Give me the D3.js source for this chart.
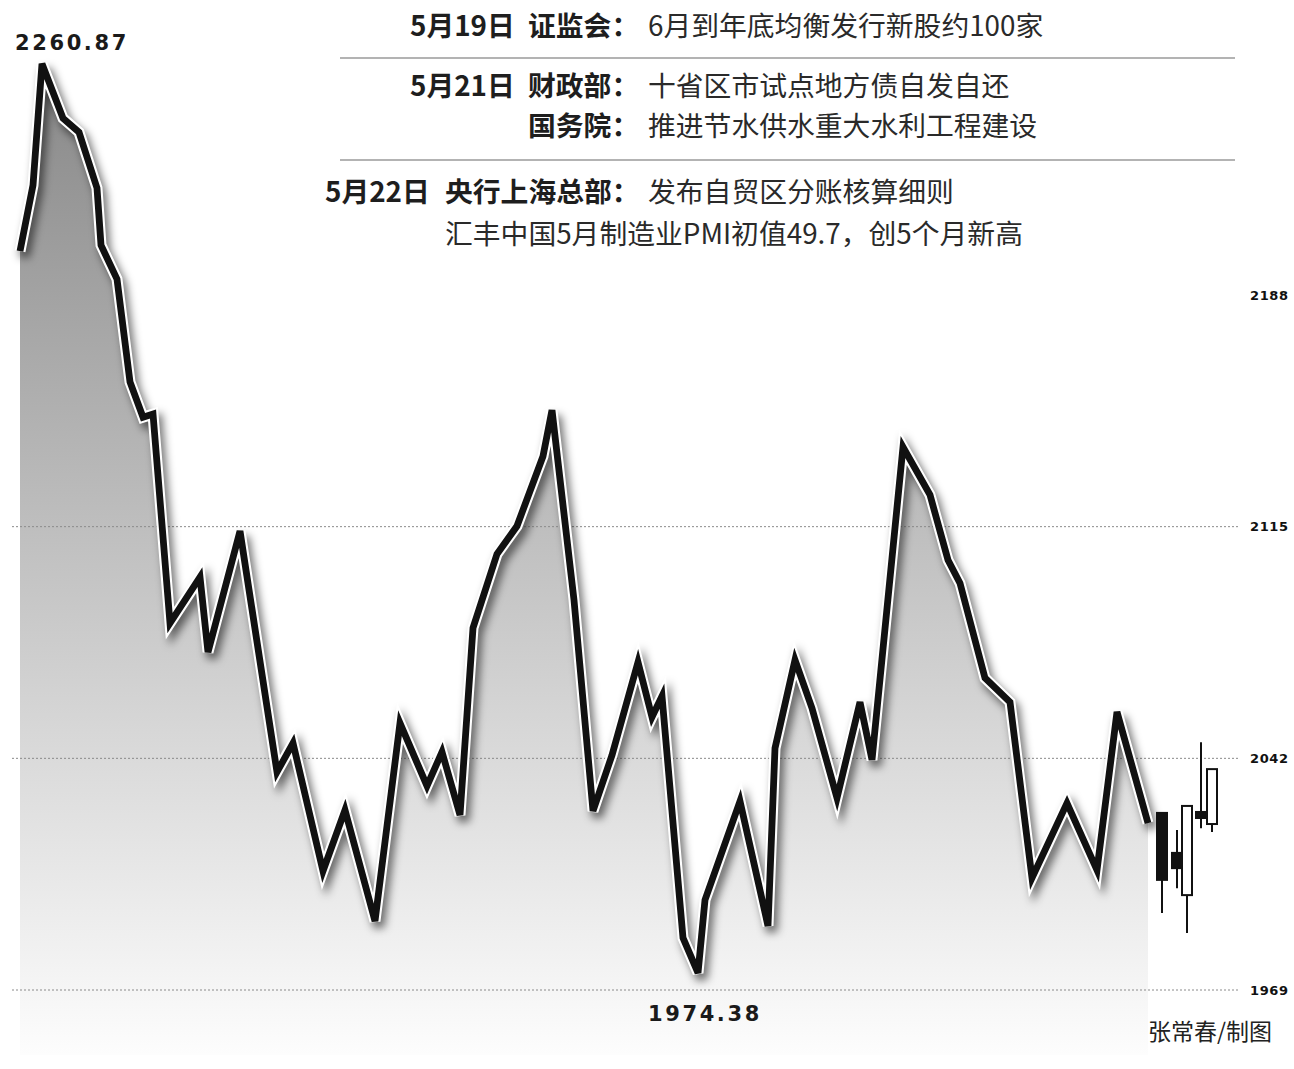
<!DOCTYPE html>
<html>
<head>
<meta charset="utf-8">
<script src="https://cdn.jsdelivr.net/npm/d3@7"></script>
<style>
html,body{margin:0;padding:0;background:#fff;overflow:hidden;}
svg{display:block;}
</style>
</head>
<body>
<script>
// ---- data ----
const xPos = [20,33,42,63,79,97,101,117,130,143,153,170,200,208,240,277,293,323,345,375,400,427,442,460,473,497,517,543,552,574,593,612,638,652,662,683,698,705,740,768,775,795,812,837,860,872,903,930,948,960,985,1010,1032,1067,1097,1117,1148];
const indexVals = [2201.8,2222.6,2260.87,2243.7,2239.3,2221.7,2203.7,2193.0,2160.6,2149.5,2150.5,2084.6,2099.1,2075.5,2113.6,2037.7,2046.8,2006.5,2025.7,1990.7,2053.1,2033.3,2044.0,2024.1,2083.1,2106.4,2115.2,2137.2,2151.7,2091.9,2025.4,2043.0,2072.3,2055.0,2061.6,1985.4,1974.38,1997.4,2028.5,1989.2,2045.2,2073.0,2057.8,2029.5,2059.7,2041.5,2140.1,2125.0,2104.5,2097.2,2067.3,2059.7,2004.3,2027.9,2006.8,2056.6,2021.6];

const candleX = [1162,1177,1187,1201,1212];
const candleOpen = [2024.8,2012.2,1998.9,2025.1,2021.3];
const candleClose = [2003.7,2007.4,2027.0,2023.2,2038.6];
const candleHigh = [2024.8,2019.4,2027.0,2047.1,2038.6];
const candleLow = [1993.3,2001.1,1987.0,2020.0,2018.8];

const tickVals = [1969,2042,2115,2188];
const gridVals = [1969,2042,2115];
const maxLabel = "2260.87";
const minLabel = "1974.38";

const newsDates = ["5月19日","5月21日","5月22日"];
const newsOrgs = ["证监会：","财政部：","国务院：","央行上海总部："];
const newsTexts = ["6月到年底均衡发行新股约100家","十省区市试点地方债自发自还","推进节水供水重大水利工程建设","发布自贸区分账核算细则","汇丰中国5月制造业PMI初值49.7，创5个月新高"];
const credit = "张常春/制图";

// ---- chart ----
const W = 1294, H = 1069;
const svg = d3.select("body").append("svg").attr("width", W).attr("height", H);

const x = d3.scaleLinear().domain([0, 1240]).range([0, 1240]);
const y = d3.scaleLinear().domain([1969, 2188]).range([990, 295]);

const defs = svg.append("defs");
const grad = defs.append("linearGradient").attr("id","areaGrad")
  .attr("gradientUnits","userSpaceOnUse").attr("x1",0).attr("x2",0).attr("y1",60).attr("y2",1055);
[[0,"#878787"],[0.35,"#b0b0b0"],[0.7,"#dadada"],[1,"#fdfdfd"]].forEach(s=>{
  grad.append("stop").attr("offset",s[0]).attr("stop-color",s[1]);
});
const filt = defs.append("filter").attr("id","shadow").attr("x","-10%").attr("y","-10%").attr("width","120%").attr("height","120%");
filt.append("feGaussianBlur").attr("stdDeviation",4.5);

const pts = xPos.map((d,i)=>({x:d, v:indexVals[i]}));

// area
const area = d3.area().x(d=>x(d.x)).y0(1055).y1(d=>y(d.v));
svg.append("path").datum(pts).attr("d",area).attr("fill","url(#areaGrad)");

// grid lines
svg.append("g").selectAll("line").data(gridVals).join("line")
  .attr("x1",12).attr("x2",1240)
  .attr("y1",d=>y(d)).attr("y2",d=>y(d))
  .attr("stroke","#8a8a8a").attr("stroke-width",1).attr("stroke-dasharray","2,2");

// right axis labels
svg.append("g").selectAll("text").data(tickVals).join("text")
  .attr("x",1250).attr("y",d=>y(d)).attr("dy","0.36em")
  .attr("font-family","DejaVu Sans").attr("font-weight","bold").attr("font-size",13)
  .attr("letter-spacing",0.6).attr("fill","#111")
  .text(d=>d);

// line with shadow and white outline
const line = d3.line().x(d=>x(d.x)).y(d=>y(d.v));
svg.append("path").datum(pts).attr("d",line)
  .attr("fill","none").attr("stroke","#000").attr("stroke-opacity",0.55)
  .attr("stroke-width",11).attr("stroke-linejoin","miter")
  .attr("transform","translate(4,6)").attr("filter","url(#shadow)");
svg.append("path").datum(pts).attr("d",line)
  .attr("fill","none").attr("stroke","#fff").attr("stroke-width",11)
  .attr("stroke-linejoin","miter").attr("stroke-miterlimit",4);
svg.append("path").datum(pts).attr("d",line)
  .attr("fill","none").attr("stroke","#111").attr("stroke-width",6.8)
  .attr("stroke-linejoin","miter").attr("stroke-miterlimit",4);

// candlesticks
const candles = candleX.map((cx,i)=>({x:cx,o:candleOpen[i],c:candleClose[i],h:candleHigh[i],l:candleLow[i]}));
const cw = 10;
const cg = svg.append("g").selectAll("g").data(candles).join("g");
cg.append("line").attr("x1",d=>x(d.x)).attr("x2",d=>x(d.x))
  .attr("y1",d=>y(d.h)).attr("y2",d=>y(d.l)).attr("stroke","#111").attr("stroke-width",2);
cg.append("rect").attr("x",d=>x(d.x)-cw/2).attr("width",cw)
  .attr("y",d=>y(Math.max(d.o,d.c))).attr("height",d=>Math.max(2,Math.abs(y(d.o)-y(d.c))))
  .attr("fill",d=>d.c>d.o?"#fff":"#111").attr("stroke","#111").attr("stroke-width",2);

// extreme labels
const lblStyle = s => s.attr("font-family","DejaVu Sans").attr("font-weight","bold")
  .attr("font-size",21).attr("letter-spacing",2.6).attr("fill","#1a1a1a");
svg.append("text").attr("x",15).attr("y",50).text(maxLabel).call(lblStyle);
svg.append("text").attr("x",648).attr("y",1021).text(minLabel).call(lblStyle);

// news block
const cjk = "'Noto Sans CJK SC', 'Noto Sans', sans-serif";
const fs = 27.8;
function txt(xp, yp, s, bold){
  svg.append("text").attr("x",xp).attr("y",yp).text(s)
    .attr("font-family",cjk).attr("font-size",fs)
    .attr("font-weight",bold?"bold":"normal").attr("fill",bold?"#1e1e1e":"#2a2a2a");
}
txt(410,36,newsDates[0],true); txt(528,36,newsOrgs[0],true); txt(648,36,newsTexts[0],false);
txt(410,96,newsDates[1],true); txt(528,96,newsOrgs[1],true); txt(648,96,newsTexts[1],false);
txt(528,136,newsOrgs[2],true); txt(648,136,newsTexts[2],false);
txt(325,202,newsDates[2],true); txt(445,202,newsOrgs[3],true); txt(648,202,newsTexts[3],false);
txt(445,244,newsTexts[4],false);

svg.append("g").selectAll("line").data([58,160]).join("line")
  .attr("x1",340).attr("x2",1235).attr("y1",d=>d).attr("y2",d=>d)
  .attr("stroke","#9a9a9a").attr("stroke-width",1.5);

svg.append("text").attr("x",1148).attr("y",1040).text(credit)
  .attr("font-family",cjk).attr("font-size",23).attr("fill","#222");
</script>
</body>
</html>
